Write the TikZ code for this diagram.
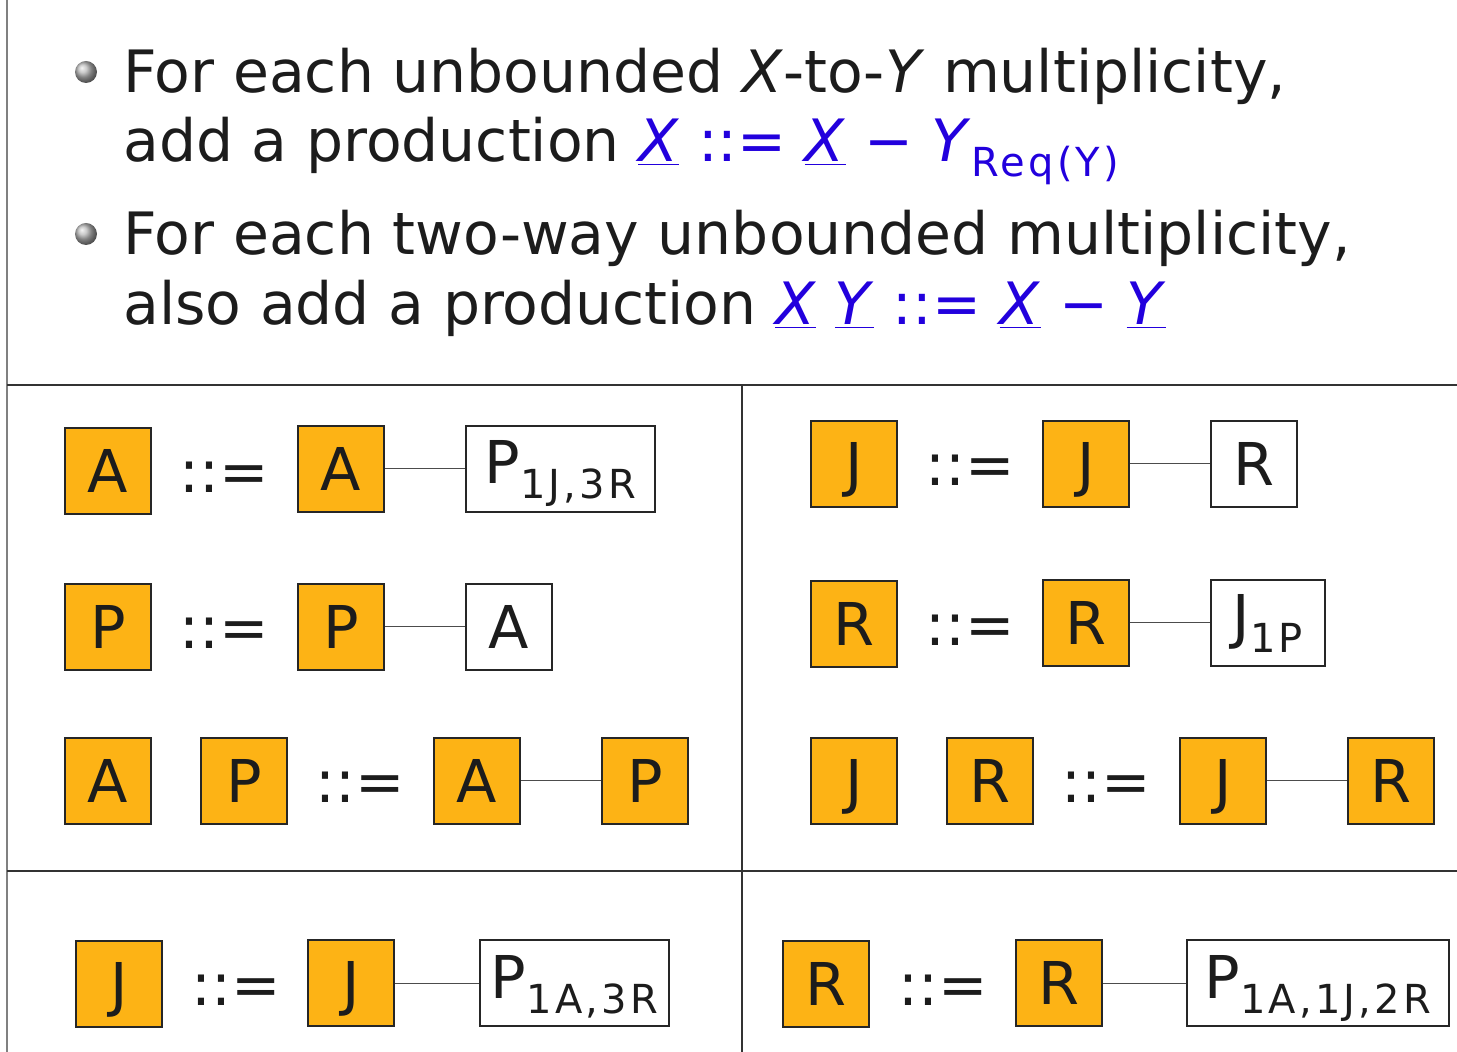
\documentclass[tikz,border=0pt]{standalone}
\usepackage{fontspec}
\setmainfont{DejaVu Sans}
\usepackage{tikz}
\usetikzlibrary{positioning}

\definecolor{ntorange}{RGB}{253,179,21}
\definecolor{prodblue}{RGB}{34,0,221}
\definecolor{inkgray}{RGB}{28,28,28}
\newcommand{\bigfont}{\fontsize{29.5}{35}\selectfont}
\newcommand{\linefont}{\fontsize{29.2}{35}\selectfont}
\newcommand{\sub}[1]{\raisebox{-7.5pt}{\fontsize{20}{20}\selectfont\addfontfeature{LetterSpace=8}#1}}
\newcommand{\ux}[1]{\underline{\textit{#1}}}

\begin{document}
\begin{tikzpicture}[
            x=0.5pt, y=-0.5pt,
            every node/.style={text=inkgray, font=\bigfont, inner sep=0pt},
            nt/.style={draw=black!85, line width=0.75pt, fill=ntorange,
                minimum size=43pt, text height=21.5pt, text depth=0pt},
            tm/.style={draw=black!85, line width=0.6pt, fill=white,
                minimum height=43pt, minimum width=43pt, text height=21.5pt, text depth=0pt},
            tmsub/.style={tm, text depth=6.5pt, align=left},
            eqs/.style={text height=21.5pt, text depth=0pt},
            edge/.style={black!70, line width=0.5pt},
            rule/.style={black!80, line width=0.75pt}
        ]
            \useasboundingbox (0,0) rectangle (1457,1052);

            % frame
            \draw[black!50, line width=1pt] (7,0) -- (7,1052);
            \draw[rule] (7,385) -- (1457,385);
            \draw[rule] (7,871) -- (1457,871);
            \draw[rule] (742,385) -- (742,1052);

            % bullets
            \shade[ball color=gray!55] (86,72) circle (11);
            \shade[ball color=gray!55] (86,234) circle (11);
            \node[anchor=base west, font=\linefont] (l1) at (123,93)
                {For each unbounded \textit{X}-to-\textit{Y} multiplicity,};
            \node[anchor=base west, font=\linefont] (l2) at (123,162)
                {add a production \textcolor{prodblue}{\ux{X} ::= \ux{X} − \textit{Y}\sub{Req(Y)}}};
            \node[anchor=base west, font=\linefont] (l3) at (123,255)
                {For each two-way unbounded multiplicity,};
            \node[anchor=base west, font=\linefont] (l4) at (123,325)
                {also add a production \textcolor{prodblue}{\ux{X} \ux{Y} ::= \ux{X} − \ux{Y}}};

            % left column
            \node[nt] (a1) at (108,471) {A};
            \node[eqs] (eq1) at (224,471) {::=};
            \node[nt] (a2) at (341,469) {A};
            \node[tmsub, minimum width=94.5pt] (p1) at (560.5,469) {P\sub{1J,3R}};
            \draw[edge] (a2) -- (p1);

            \node[nt] (p2) at (108,627) {P};
            \node[eqs] (eq2) at (224,627) {::=};
            \node[nt] (p3) at (341,627) {P};
            \node[tm] (a3) at (509,627) {A};
            \draw[edge] (p3) -- (a3);

            \node[nt] (a4) at (108,781) {A};
            \node[nt] (p4) at (244,781) {P};
            \node[eqs] (eq3) at (360,781) {::=};
            \node[nt] (a5) at (477,781) {A};
            \node[nt] (p5) at (645,781) {P};
            \draw[edge] (a5) -- (p5);

            % right column
            \node[nt] (j1) at (854,464) {J};
            \node[eqs] (eq4) at (970,464) {::=};
            \node[nt] (j2) at (1086,464) {J};
            \node[tm] (r1) at (1254,464) {R};
            \draw[edge] (j2) -- (r1);

            \node[nt] (r2) at (854,624) {R};
            \node[eqs] (eq5) at (970,624) {::=};
            \node[nt] (r3) at (1086,623) {R};
            \node[tmsub, minimum width=57pt] (j3) at (1268,623) {J\sub{1P}};
            \draw[edge] (r3) -- (j3);

            \node[nt] (j4) at (854,781) {J};
            \node[nt] (r4) at (990,781) {R};
            \node[eqs] (eq6) at (1106,781) {::=};
            \node[nt] (j5) at (1223,781) {J};
            \node[nt] (r5) at (1391,781) {R};
            \draw[edge] (j5) -- (r5);

            % bottom row
            \node[nt] (j6) at (119,984) {J};
            \node[eqs] (eq7) at (236,984) {::=};
            \node[nt] (j7) at (351,983) {J};
            \node[tmsub, minimum width=94.5pt] (p6) at (574.5,983) {P\sub{1A,3R}};
            \draw[edge] (j7) -- (p6);

            \node[nt] (r6) at (826,984) {R};
            \node[eqs] (eq8) at (943,984) {::=};
            \node[nt] (r7) at (1059,983) {R};
            \node[tmsub, minimum width=131pt] (p7) at (1318,983) {P\sub{1A,1J,2R}};
            \draw[edge] (r7) -- (p7);
        \end{tikzpicture}
\end{document}
